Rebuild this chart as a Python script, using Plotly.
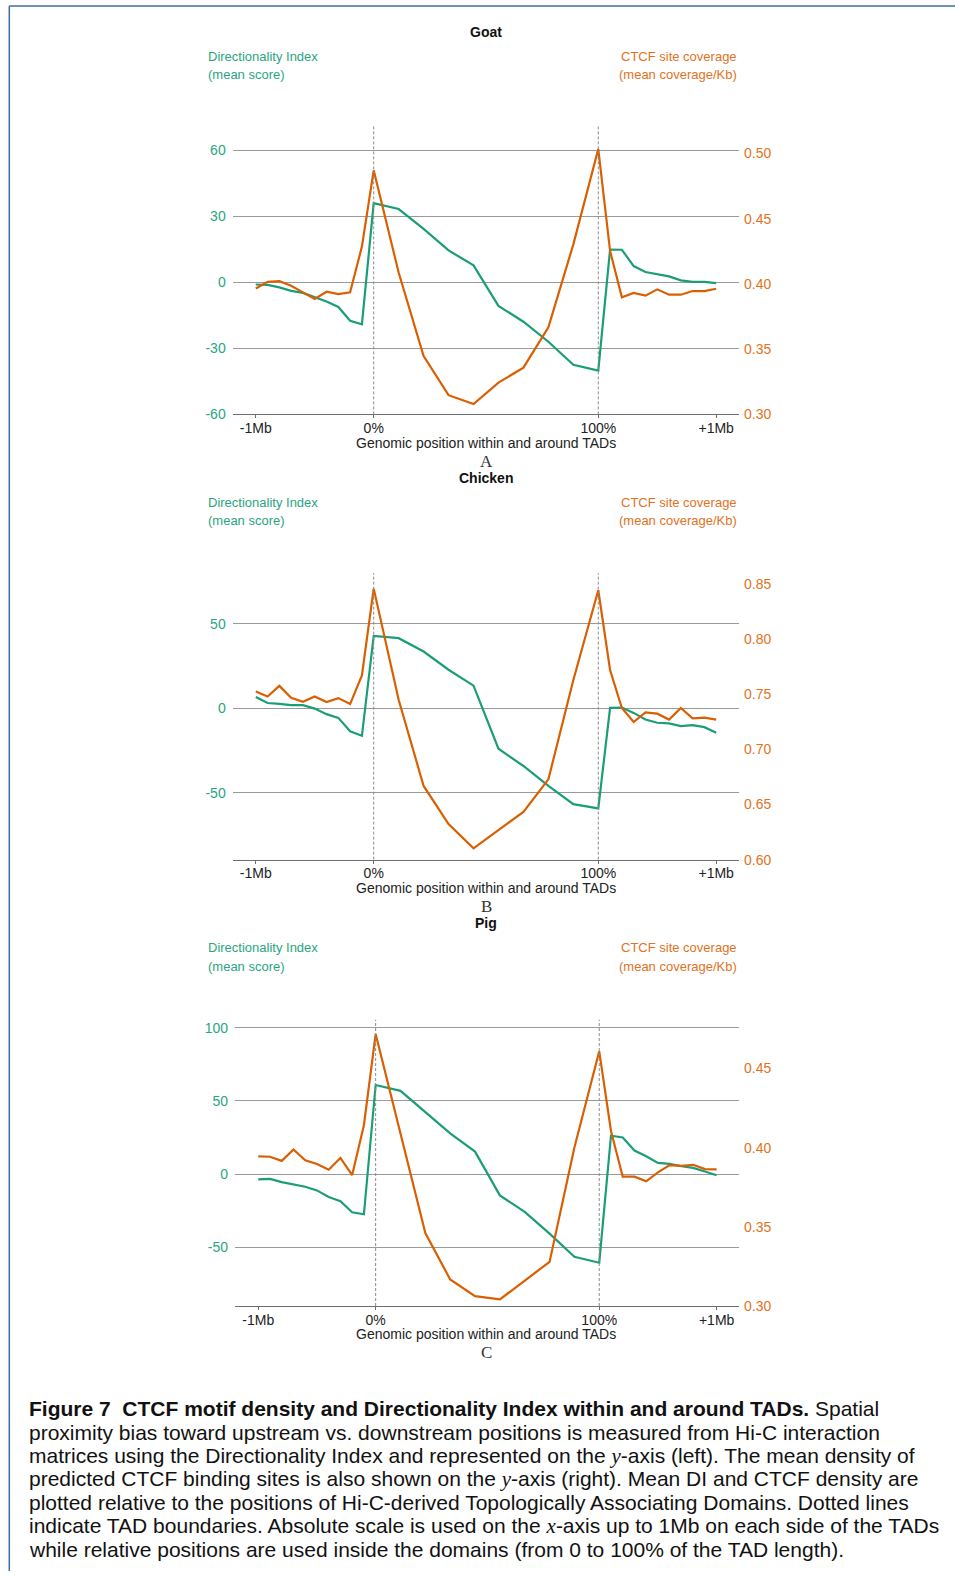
import plotly.graph_objects as go

# ---- data -------------------------------------------------------------
# Positions: 10 bins on each flank (Mb from the boundary) and 10 points
# spread over the TAD body (fraction of TAD length).
left_flank_mb = [-1.0, -0.9, -0.8, -0.7, -0.6, -0.5, -0.4, -0.3, -0.2, -0.1]
tad_fraction = [0 / 9, 1 / 9, 2 / 9, 3 / 9, 4 / 9, 5 / 9, 6 / 9, 7 / 9, 8 / 9, 9 / 9]
right_flank_mb = [0.1, 0.2, 0.3, 0.4, 0.5, 0.6, 0.7, 0.8, 0.9, 1.0]

x_tick_labels = ["-1Mb", "0%", "100%", "+1Mb"]

goat_di = [-1.0, -1.2, -2.3, -3.9, -4.8, -6.8, -8.7, -11.2, -17.5, -19.1,
           36.0, 33.3, 24.3, 14.5, 7.7, -10.7, -17.9, -27.0, -37.5, -40.1,
           14.9, 14.8, 7.4, 4.7, 3.6, 2.7, 0.9, 0.2, 0.2, -0.4]
goat_ctcf = [0.3965, 0.4016, 0.4021, 0.3986, 0.3935, 0.3884, 0.3940, 0.3922, 0.3935, 0.4286,
             0.4870, 0.4087, 0.3447, 0.3147, 0.3079, 0.3244, 0.3358, 0.3668, 0.4303, 0.5033,
             0.4253, 0.3897, 0.3930, 0.3910, 0.3958, 0.3917, 0.3917, 0.3945, 0.3945, 0.3963]

chicken_di = [6.7, 3.1, 2.6, 1.8, 1.8, -0.2, -3.5, -5.7, -13.6, -16.3,
              42.8, 41.5, 33.6, 22.8, 13.4, -24.0, -34.2, -46.0, -56.8, -59.3,
              0.2, 0.4, -2.75, -6.7, -8.6, -9.0, -10.6, -10.0, -11.2, -14.5]
chicken_ctcf = [0.7525, 0.7480, 0.7576, 0.7468, 0.7432, 0.7480, 0.7429, 0.7465, 0.7411, 0.7670,
                0.8458, 0.7450, 0.6668, 0.6322, 0.6102, 0.6271, 0.6433, 0.6728, 0.7630, 0.8443,
                0.7720, 0.7375, 0.7248, 0.7336, 0.7324, 0.7270, 0.7375, 0.7282, 0.7288, 0.7270]

pig_di = [-3.6, -3.2, -5.4, -7.0, -8.6, -11.1, -15.6, -18.4, -26.0, -27.4,
          60.9, 56.9, 42.1, 27.9, 15.4, -14.5, -25.8, -40.6, -56.4, -60.5,
          26.3, 25.1, 16.1, 12.2, 7.7, 7.0, 5.4, 4.3, 1.8, -0.7]
pig_ctcf = [0.3945, 0.3943, 0.3917, 0.3989, 0.3920, 0.3897, 0.3861, 0.3936, 0.3827, 0.4142,
            0.4718, 0.4085, 0.3461, 0.3168, 0.3063, 0.3042, 0.3163, 0.3279, 0.4001, 0.4609,
            0.4106, 0.3817, 0.3817, 0.3788, 0.3844, 0.3890, 0.3886, 0.3892, 0.3865, 0.3863]

di_ticks = {"Goat": [-60, -30, 0, 30, 60], "Chicken": [-50, 0, 50], "Pig": [-50, 0, 50, 100]}
ctcf_ticks = {"Goat": [0.30, 0.35, 0.40, 0.45, 0.50],
              "Chicken": [0.60, 0.65, 0.70, 0.75, 0.80, 0.85],
              "Pig": [0.30, 0.35, 0.40, 0.45]}

caption_lines = [
    "<b>Figure 7\u00a0 CTCF motif density and Directionality Index within and around TADs.</b> Spatial",
    "proximity bias toward upstream vs. downstream positions is measured from Hi-C interaction",
    "matrices using the Directionality Index and represented on the {y}-axis (left). The mean density of",
    "predicted CTCF binding sites is also shown on the {y}-axis (right). Mean DI and CTCF density are",
    "plotted relative to the positions of Hi-C-derived Topologically Associating Domains. Dotted lines",
    "indicate TAD boundaries. Absolute scale is used on the {x}-axis up to 1Mb on each side of the TADs",
    "while relative positions are used inside the domains (from 0 to 100% of the TAD length).",
]

# ---- styling / layout -------------------------------------------------
W, H = 955, 1579
GREEN, ORANGE = "#1b9e77", "#d95f02"
GREEN_TXT, ORANGE_TXT = "#2aa57f", "#e2721c"
SANS = "Liberation Sans, Arial, Helvetica, sans-serif"
SERIF = "Liberation Serif, Times New Roman, serif"
FLANK = 52.5  # x units occupied by 1 Mb of flank (TAD body spans 0..100)

def px_x(p):
    return p / W

def px_y(p):
    return 1 - p / H

x_pos = ([m * FLANK for m in left_flank_mb] + [f * 100 for f in tad_fraction]
         + [100 + m * FLANK for m in right_flank_mb])

panels = [
    dict(name="Goat", tag="A", di=goat_di, ctcf=goat_ctcf, xpx=(232.7, 739), ypx=(127, 416.5),
         xr=[-62.78, 162.65], yl=[-60.0, 70.85], yr=[0.30, 0.5207], off=0),
    dict(name="Chicken", tag="B", di=chicken_di, ctcf=chicken_ctcf, xpx=(232.7, 739), ypx=(576, 864),
         xr=[-62.78, 162.65], yl=[-89.66, 80.06], yr=[0.60, 0.8599], off=448),
    dict(name="Pig", tag="C", di=pig_di, ctcf=pig_ctcf, xpx=(235, 739), ypx=(1025, 1312.7),
         xr=[-62.9, 162.5], yl=[-90.1, 105.44], yr=[0.30, 0.4808], off=896),
]

fig = go.Figure()
annotations = []
shapes = []
layout = dict(width=W, height=H, margin=dict(l=0, r=0, t=0, b=0),
              paper_bgcolor="white", plot_bgcolor="white", showlegend=False,
              font=dict(family=SANS, size=14, color="#222"))

for i, p in enumerate(panels):
    n = i + 1
    xa = "x" if n == 1 else f"x{n}"
    yl_id = 2 * n - 1
    yr_id = 2 * n
    yl_name = "y" if yl_id == 1 else f"y{yl_id}"
    yr_name = f"y{yr_id}"

    fig.add_trace(go.Scatter(x=x_pos, y=p["di"], mode="lines", xaxis=xa, yaxis=yl_name,
                             line=dict(color=GREEN, width=2.2), hoverinfo="skip"))
    fig.add_trace(go.Scatter(x=x_pos, y=p["ctcf"], mode="lines", xaxis=xa, yaxis=yr_name,
                             line=dict(color=ORANGE, width=2.2), hoverinfo="skip"))

    xdom = [px_x(p["xpx"][0]), px_x(p["xpx"][1])]
    ydom = [px_y(p["ypx"][1]), px_y(p["ypx"][0])]
    xkey = "xaxis" if n == 1 else f"xaxis{n}"
    layout[xkey] = dict(domain=xdom, range=p["xr"], anchor=yl_name,
                        tickvals=[-FLANK, 0, 100, 100 + FLANK], ticktext=x_tick_labels,
                        showgrid=False, zeroline=False, showline=True, linecolor="#6e6e6e",
                        linewidth=1, ticks="outside", ticklen=3, tickcolor="#6e6e6e",
                        ticklabelstandoff=-2,
                        tickfont=dict(size=14, color="#222"), fixedrange=True)
    dv = di_ticks[p["name"]]
    ylkey = "yaxis" if yl_id == 1 else f"yaxis{yl_id}"
    layout[ylkey] = dict(domain=ydom, range=p["yl"], anchor=xa, side="left",
                         tickvals=dv, ticktext=[str(v) for v in dv],
                         showgrid=True, gridcolor="#9a9a9a",
                         gridwidth=1, zeroline=False, showline=False, ticks="",
                         ticklabelstandoff=6,
                         tickfont=dict(size=14, color=GREEN_TXT), fixedrange=True)
    layout[f"yaxis{yr_id}"] = dict(domain=ydom, range=p["yr"], anchor=xa, overlaying=yl_name,
                                   side="right", tickvals=ctcf_ticks[p["name"]],
                                   tickformat=".2f", showgrid=False, zeroline=False,
                                   showline=False, ticks="", ticklabelstandoff=4,
                                   tickfont=dict(size=14, color=ORANGE_TXT), fixedrange=True)

    # TAD boundaries
    for bx in (0, 100):
        shapes.append(dict(type="line", xref=xa, yref=f"{yl_name} domain", x0=bx, x1=bx,
                           y0=0, y1=1, line=dict(color="#8a8a8a", width=1, dash="3px,2px")))

    o = p["off"]
    annotations += [
        dict(text=f"<b>{p['name']}</b>", x=px_x(486), y=px_y(32.2 + o), xref="paper", yref="paper",
             xanchor="center", yanchor="middle", showarrow=False,
             font=dict(size=14, color="#111", family=SANS)),
        dict(text="Directionality Index", x=px_x(205.7), y=px_y(56.7 + o), xref="paper",
             yref="paper", xanchor="left", yanchor="middle", showarrow=False,
             font=dict(size=13, color=GREEN_TXT)),
        dict(text="(mean score)", x=px_x(205.7), y=px_y(75 + o), xref="paper", yref="paper",
             xanchor="left", yanchor="middle", showarrow=False,
             font=dict(size=13, color=GREEN_TXT)),
        dict(text="CTCF site coverage", x=px_x(739), y=px_y(56.7 + o), xref="paper", yref="paper",
             xanchor="right", yanchor="middle", showarrow=False,
             font=dict(size=13, color=ORANGE_TXT)),
        dict(text="(mean coverage/Kb)", x=px_x(739), y=px_y(75 + o), xref="paper", yref="paper",
             xanchor="right", yanchor="middle", showarrow=False,
             font=dict(size=13, color=ORANGE_TXT)),
        dict(text="Genomic position within and around TADs", x=px_x(486), y=px_y(445 + o),
             xref="paper", yref="paper", xanchor="center", yanchor="middle", showarrow=False,
             font=dict(size=14, color="#222")),
        dict(text=p["tag"], x=px_x(486), y=px_y(463.4 + o), xref="paper", yref="paper",
             xanchor="center", yanchor="middle", showarrow=False,
             font=dict(size=17, color="#333", family=SERIF)),
    ]

# caption
math = '<span style="font-family:Liberation Serif, serif"><i>{}</i></span>'
for k, line in enumerate(caption_lines):
    txt = line.replace("{y}", math.format("y")).replace("{x}", math.format("x"))
    annotations.append(dict(text=txt, x=px_x(27.2), y=px_y(1416 + 23.5 * k), xref="paper",
                            yref="paper", xanchor="left", yanchor="middle", showarrow=False,
                            align="left", font=dict(size=21, color="#111", family=SANS)))

# frame around the figure
shapes += [
    dict(type="line", xref="paper", yref="paper", x0=px_x(9.3), x1=1.0, y0=px_y(6), y1=px_y(6),
         line=dict(color="#3f6ca6", width=1.5)),
    dict(type="line", xref="paper", yref="paper", x0=px_x(9.3), x1=px_x(9.3), y0=px_y(6), y1=0,
         line=dict(color="#3f6ca6", width=1.5)),
]

layout["annotations"] = annotations
layout["shapes"] = shapes
fig.update_layout(**layout)
fig.write_html("out.html")
